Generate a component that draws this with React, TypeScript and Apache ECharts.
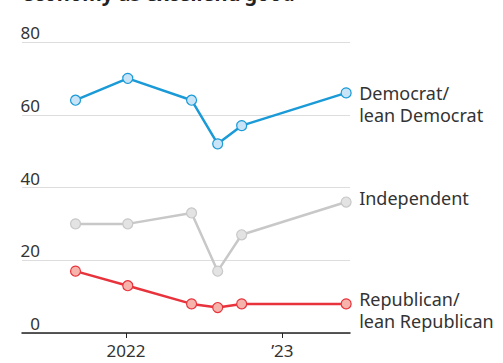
import React, { useEffect, useRef } from "react";
import * as echarts from "echarts";

// Survey dates and shares rating the economy as excellent/good
const surveyDates = ["2021-09-05", "2022-01-05", "2022-06-03", "2022-08-03", "2022-09-28", "2023-05-30"];
const democrat = [64, 70, 64, 52, 57, 66];
const independent = [30, 30, 33, 17, 27, 36];
const republican = [17, 13, 8, 7, 8, 8];
const yTicks = [0, 20, 40, 60, 80];
const yearTicks = ["2022-01-01", "2023-01-01"];
const xRange = ["2021-05-03", "2023-06-08"];

const FONT = "'Noto Sans', sans-serif";

const ts = (d: string) => Date.parse(d + "T00:00:00Z");
const toPairs = (vals: number[]) => surveyDates.map((d, i) => [ts(d), vals[i]]);

function makeSeries(
  name: string,
  vals: number[],
  line: string,
  fill: string,
  label: string,
  dy: number
) {
  return {
    name,
    type: "line",
    data: toPairs(vals),
    symbol: "circle",
    symbolSize: 10,
    lineStyle: { color: line, width: 2.5 },
    itemStyle: { color: fill, borderColor: line, borderWidth: 1.2 },
    endLabel: {
      show: true,
      formatter: label,
      distance: 13,
      offset: [0, dy],
      color: "#333",
      fontFamily: FONT,
      fontSize: 18,
      lineHeight: 22,
      align: "left",
      verticalAlign: "middle",
    },
    emphasis: { disabled: true },
    z: 3,
  };
}

export default function App() {
  const ref = useRef<HTMLDivElement>(null);

  useEffect(() => {
    document.body.style.margin = "0";
    if (!ref.current) return;
    const chart = echarts.init(ref.current, null, { renderer: "svg" });
    const yearTs = yearTicks.map(ts);
    chart.setOption({
      animation: false,
      backgroundColor: "#fff",
      grid: { left: 22, right: 153, top: 42, bottom: 30, containLabel: false },
      graphic: [
        {
          type: "text",
          left: 22,
          top: -17,
          style: {
            text: "economy as excellent/good",
            fontFamily: FONT,
            fontWeight: "bold",
            fontSize: 20,
            fill: "#222",
          },
        },
      ],
      xAxis: {
        type: "value",
        min: ts(xRange[0]),
        max: ts(xRange[1]),
        axisLine: { show: true, onZero: false, lineStyle: { color: "#222", width: 1.5 } },
        axisTick: {
          show: true,
          customValues: yearTs,
          length: 5,
          lineStyle: { color: "#222", width: 1 },
        },
        axisLabel: {
          show: true,
          customValues: yearTs,
          color: "#333",
          fontFamily: FONT,
          fontSize: 17,
          margin: 9,
          formatter: (v: number) => {
            const y = new Date(v).getUTCFullYear();
            return y === 2022 ? String(y) : "\u2019" + String(y).slice(2);
          },
        },
        splitLine: { show: false },
      },
      yAxis: {
        type: "value",
        min: 0,
        max: 80,
        interval: 20,
        axisLine: { show: false },
        axisTick: { show: false },
        axisLabel: {
          inside: true,
          margin: 18,
          align: "right",
          verticalAlign: "bottom",
          padding: [0, 0, 1, 0],
          color: "#333",
          fontFamily: FONT,
          fontSize: 17,
          formatter: (v: number) => (yTicks.includes(v) ? String(v) : ""),
        },
        splitLine: { show: true, lineStyle: { color: "#ddd", width: 1 } },
      },
      series: [
        makeSeries("Democrat/lean Democrat", democrat, "#1a9ad6", "#c8e4f6", "Democrat/\nlean Democrat", 11),
        makeSeries("Independent", independent, "#c8c8c8", "#e3e3e3", "Independent", -4),
        makeSeries("Republican/lean Republican", republican, "#e8333c", "#f6b3ab", "Republican/\nlean Republican", 6),
      ],
    });
    return () => chart.dispose();
  }, []);

  return <div ref={ref} style={{ width: 503, height: 363 }} />;
}
